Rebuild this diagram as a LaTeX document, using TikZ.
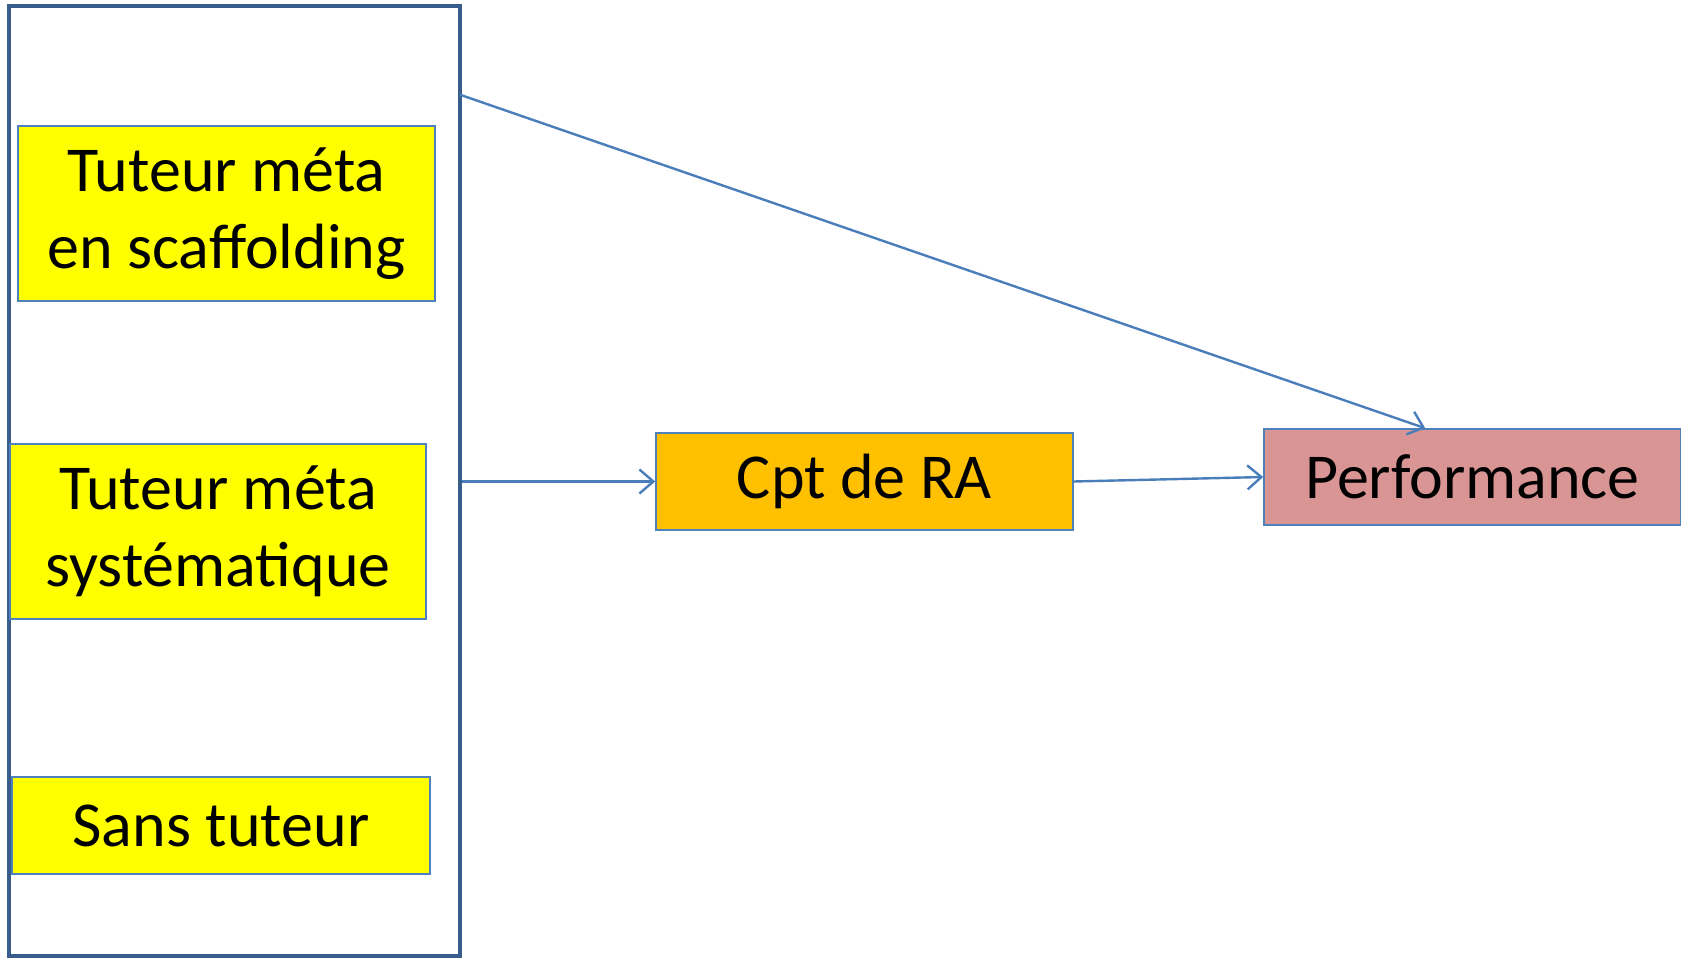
\documentclass[tikz,border=0pt]{standalone}
\usepackage{fontspec}
\setmainfont{Carlito}
\usetikzlibrary{arrows.meta,calc}
\definecolor{boxblue}{HTML}{4F81BD}
\definecolor{darkblue}{HTML}{385D8A}
\definecolor{arrowblue}{HTML}{4A7EBB}
\definecolor{yel}{HTML}{FFFF00}
\definecolor{orng}{HTML}{FFC000}
\definecolor{pinkred}{HTML}{D99594}
\tikzset{
  cbox/.style={draw=boxblue, line width=1.5pt, inner sep=0pt, align=center,
    font=\fontsize{64}{77}\selectfont, text=black},
  conn/.style={draw=arrowblue, line width=2.4pt, -{Straight Barb[length=14pt,width=24pt,line width=2.4pt]}}
}
\begin{document}
\begin{tikzpicture}[x=1pt,y=-1pt]
\useasboundingbox (0,0) rectangle (1681,958);
\node[draw=darkblue, line width=4.5pt, minimum width=451pt, minimum height=950pt, inner sep=0pt] (big) at (234.3,481) {};
\node[cbox, fill=yel, minimum width=417pt, minimum height=175pt] (t1) at (226.5,213.5) {Tuteur méta\\en scaffolding};
\node[cbox, fill=yel, minimum width=416pt, minimum height=175pt] (t2) at (218,531.5) {Tuteur méta\\systématique};
\node[cbox, fill=yel, minimum width=418pt, minimum height=97pt] (t3) at (221,825.5) {Sans tuteur};
\node[cbox, fill=orng, minimum width=417pt, minimum height=97pt] (cpt) at (864.5,481.5) {Cpt de RA};
\node[cbox, fill=pinkred, minimum width=417pt, minimum height=96pt] (perf) at (1472.5,477) {Performance};
\coordinate (s1) at ($(big.north east)+(-2,91)$);
\coordinate (e1) at ($(perf.north west)+(162,0)$);
\draw[conn] (s1) -- (e1);
\draw[conn] (big.east |- cpt.west) -- (cpt.west);
\draw[conn] (cpt.east) -- (perf.west);
\end{tikzpicture}
\end{document}
